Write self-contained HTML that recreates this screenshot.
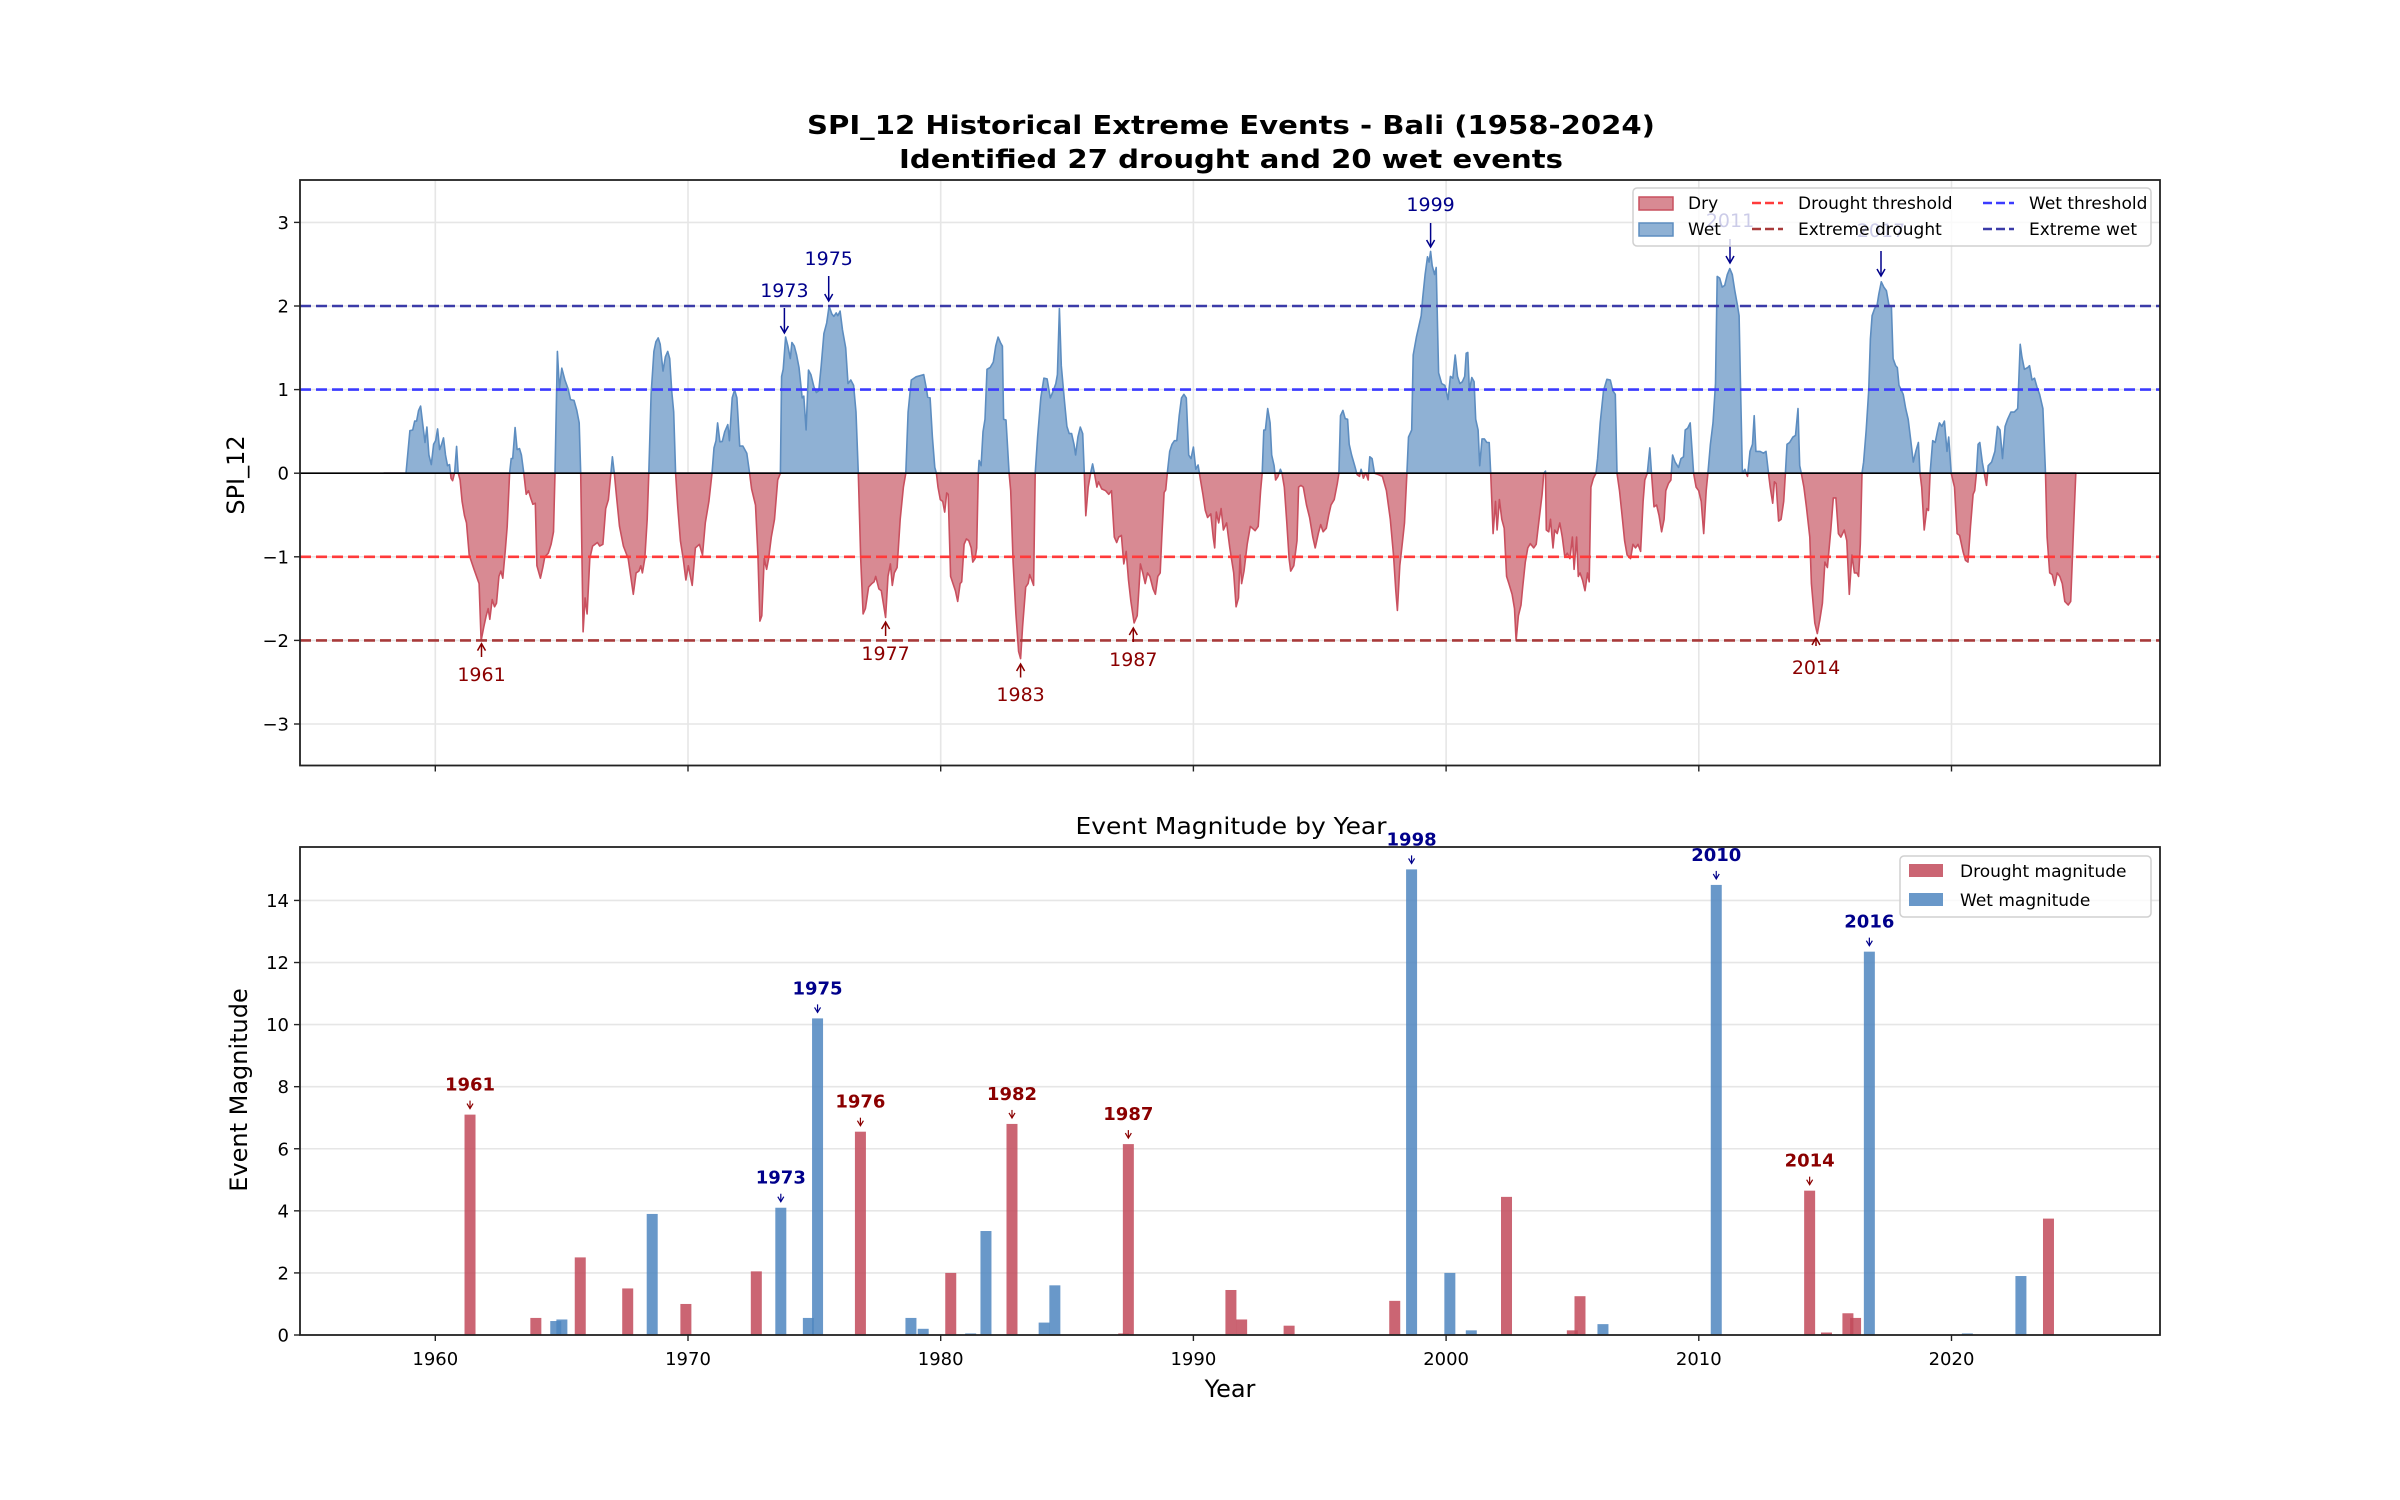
<!DOCTYPE html>
<html><head><meta charset="utf-8"><style>
html,body{margin:0;padding:0;background:#fff;}
svg{display:block;font-family:"DejaVu Sans","Liberation Sans",sans-serif;}
</style></head><body>
<svg id="s" width="2400" height="1500" viewBox="0 0 2400 1500" xmlns="http://www.w3.org/2000/svg">
<rect width="2400" height="1500" fill="#fff"/>
<text x="1231" y="134" font-size="26" font-weight="bold" text-anchor="middle" textLength="848" lengthAdjust="spacingAndGlyphs">SPI_12 Historical Extreme Events - Bali (1958-2024)</text>
<text x="1231" y="168" font-size="26" font-weight="bold" text-anchor="middle" textLength="664" lengthAdjust="spacingAndGlyphs">Identified 27 drought and 20 wet events</text>
<g id="top"></g>
<g id="bot"></g>
<text x="1231" y="834" font-size="23" text-anchor="middle" textLength="311" lengthAdjust="spacingAndGlyphs">Event Magnitude by Year</text>
<text x="1230" y="1397" font-size="24" text-anchor="middle">Year</text>
<text transform="translate(244,475) rotate(-90)" font-size="24" text-anchor="middle">SPI_12</text>
<text transform="translate(247,1090) rotate(-90)" font-size="24" text-anchor="middle">Event Magnitude</text>
</svg>
<script>
(function(){
var NS="http://www.w3.org/2000/svg";
function el(p,tag,a,txt){var e=document.createElementNS(NS,tag);for(var k in a)e.setAttribute(k,a[k]);if(txt!==undefined)e.textContent=txt;p.appendChild(e);return e;}
var top=document.getElementById('top'),bot=document.getElementById('bot');
var L=300,R=2160,T=180,B=765.5;
function X(y){return 435.3+(y-1960)*25.27;}
function Y(v){return 473.2-v*83.6;}
var y0=473.2;
for(var yr=1960;yr<=2020;yr+=10){el(top,'line',{x1:X(yr),x2:X(yr),y1:T,y2:B,stroke:'#e6e6e6','stroke-width':1.6});}
for(var v=-3;v<=3;v++){el(top,'line',{x1:L,x2:R,y1:Y(v),y2:Y(v),stroke:'#e6e6e6','stroke-width':1.6});}
var z5=[212,821,268,821,278,702,285,700,290,675,295,675,300,645,305,633,310,680,316,735,321,692,326,770,332,797,338,740,343,730,348,697,353,755,358,740,363,722,368,770,373,800,378,797,382,835,386,842,391,820,396,746,400,820,405,840,410,900,416,940,421,960,428,1050,440,1090,453,1130,458,1290,465,1250,471,1220,476,1200,480,1230,486,1175,492,1195,497,1185,503,1110,508,1095,513,1115,519,1040,524,970,530,821,534,780,538,780,544,693,549,755,555,752,560,770,566,821,572,880,578,870,584,892,589,908,595,905,599,1080,608,1115,614,1085,619,1055,628,1045,635,1020,641,985,645,821,651,480,656,585,662,527,670,560,678,585,684,615,693,617,700,645,706,680,710,821,716,1265,721,1170,726,1215,733,1060,740,1025,746,1020,752,1015,758,1025,766,1020,773,920,780,895,790,775,795,823,800,880,808,970,818,1025,830,1060,843,1160,850,1100,857,1095,862,1080,866,1100,872,1060,878,950,882,821,888,600,895,480,900,453,906,442,911,460,918,535,924,495,930,480,935,500,940,590,945,650,950,821,955,910,962,1010,969,1060,976,1120,982,1080,992,1135,1000,1030,1010,1020,1018,1050,1025,960,1034,900,1042,821,1047,750,1052,730,1056,680,1062,733,1068,732,1074,705,1082,685,1086,730,1093,610,1099,588,1105,610,1112,745,1120,745,1130,765,1137,821,1142,865,1152,910,1158,1050,1163,1235,1168,1220,1174,1060,1180,1090,1185,1060,1192,1000,1200,950,1208,840,1215,821,1218,550,1222,530,1228,440,1234,465,1240,500,1244,455,1250,465,1256,490,1262,525,1270,610,1274,605,1280,700,1286,532,1292,545,1300,580,1306,595,1312,590,1318,520,1325,430,1332,400,1338,353,1345,375,1350,382,1356,372,1360,380,1366,367,1372,420,1380,470,1386,570,1393,560,1400,575,1406,650,1412,821,1418,1060,1424,1215,1430,1200,1438,1140,1446,1130,1452,1125,1456,1110,1464,1145,1470,1150,1476,1190,1481,1225,1487,1110,1493,1075,1498,1135,1503,1100,1510,1085,1518,950,1526,860,1532,821,1538,650,1546,560,1558,551];
var z6=[60,545,66,580,70,608,76,610,82,720,88,805,92,821,96,860,102,895,108,900,113,930,118,876,122,880,128,1110,134,1130,140,1150,146,1180,152,1130,156,1125,162,1020,168,1005,174,1010,180,1030,184,1070,190,1060,194,1030,198,821,200,785,205,800,210,705,215,670,220,530,228,525,236,510,242,465,248,440,254,455,259,465,262,670,268,672,276,821,280,870,286,1070,293,1215,300,1320,305,1340,310,1250,318,1140,324,1130,328,1105,333,1120,338,1135,342,821,348,720,356,610,364,555,372,557,380,610,386,595,394,570,398,545,403,360,408,520,416,620,422,690,428,710,434,710,440,740,444,770,450,720,456,692,462,710,466,821,470,940,476,860,482,821,487,795,492,823,498,860,502,845,510,865,520,870,528,880,535,870,542,1000,548,1015,553,1000,560,995,566,1075,572,1040,578,1120,584,1180,592,1240,600,1220,604,1150,608,1075,614,1100,620,1130,626,1100,632,1110,640,1145,646,1160,652,1110,658,1100,662,1000,668,875,672,868,676,821,682,760,688,740,694,730,700,730,706,660,712,610,718,600,724,610,730,770,736,780,742,748,748,810,754,798,760,840,766,880,772,925,778,945,786,935,792,1000,796,1030,800,930,806,960,812,920,818,980,826,960,834,1030,844,1100,850,1195,856,1170,860,1050,864,1130,870,1095,878,1020,886,970,898,982,906,970,912,870,916,821,920,700,924,700,930,640,936,680,940,770,946,800,950,840,956,830,962,810,966,821,972,860,978,955,984,1060,988,1095,996,1080,1004,1010,1008,860,1014,855,1020,860,1028,910,1036,945,1044,1000,1050,1030,1058,990,1064,965,1070,985,1078,975,1084,940,1090,910,1098,895,1106,850,1110,821,1114,660,1120,645,1126,668,1132,670,1136,740,1142,770,1150,800,1156,825,1162,830,1166,810,1172,835,1178,820,1184,840,1188,775,1194,780,1200,821,1210,825,1220,830,1230,870,1240,950,1248,1050,1254,1150,1258,1205,1264,1080,1270,1020,1276,960,1282,821,1286,720,1294,700,1298,490,1306,440,1312,410,1318,380,1322,330,1328,265,1334,215,1338,230,1342,200,1346,240,1352,265,1356,245,1362,540,1370,570,1378,575,1386,615,1392,550,1398,555,1404,490,1410,550,1416,570,1422,565,1428,550,1432,485,1436,483,1440,590,1446,553,1452,565,1456,670,1462,700,1466,800,1472,725,1478,725,1484,735,1490,735,1494,821,1500,990,1506,900,1510,980,1516,895,1522,950,1528,975,1534,1110,1540,1130,1548,1160,1554,1200,1558,1290,1564,1220];
var z7=[50,1190,54,1140,60,1070,66,1030,72,1018,80,1030,86,1020,92,960,96,920,100,880,104,821,108,815,110,980,116,985,120,950,126,1030,130,980,136,990,142,960,148,1000,154,1055,160,1045,166,1060,172,1000,176,1090,182,1000,186,1110,190,1100,196,1120,202,1150,208,1100,212,1125,216,860,222,835,228,821,232,780,238,680,246,590,254,558,262,560,268,590,274,600,278,821,284,870,290,940,296,1010,302,1050,310,1060,316,1020,322,1030,328,1020,334,1040,340,900,344,840,350,821,356,750,360,821,366,915,372,910,378,940,384,985,390,950,394,870,400,850,406,840,410,770,416,790,424,805,430,780,436,775,440,700,446,695,452,680,456,750,460,821,466,860,472,870,478,900,484,990,490,870,494,821,500,740,506,680,512,570,516,270,522,275,528,300,534,295,540,265,546,248,552,265,558,310,564,350,568,380,572,600,576,821,582,810,588,830,594,760,600,740,604,660,608,760,618,760,626,765,632,760,638,821,642,860,648,905,652,845,656,850,662,955,668,950,674,900,678,821,682,740,688,735,696,720,702,715,708,640,712,800,716,821,722,860,728,915,736,1000,740,1130,748,1240,754,1270,760,1230,766,1185,772,1070,778,1085,786,980,792,890,798,890,804,990,810,1000,818,980,824,1010,830,1160,836,1050,842,1100,848,1100,852,1110,856,1020,860,821,864,790,870,700,876,590,880,445,884,380,890,360,896,350,900,320,906,285,912,300,918,310,924,350,930,355,934,500,940,520,944,525,948,575,952,585,958,600,964,640,970,670,976,730,982,790,988,760,994,735,998,821,1002,860,1008,980,1014,920,1018,925,1022,821,1028,730,1034,735,1040,700,1044,680,1050,690,1056,675,1062,760,1066,720,1072,821,1080,860,1086,990,1092,995,1100,1040,1106,1065,1112,1070,1118,970,1124,880,1128,870,1132,821,1136,740,1140,735,1146,790,1152,830,1156,855,1160,800,1168,790,1176,760,1182,690,1188,700,1194,780,1200,690,1206,670,1214,650,1222,650,1230,640,1236,460,1240,495,1246,530,1254,525,1258,520,1264,560,1270,555,1276,580,1282,600,1290,640,1296,821,1300,1000,1306,1100,1312,1105,1318,1135,1324,1100,1330,1110,1336,1130,1342,1180,1350,1190,1356,1180,1362,1000,1368,821];
var pts=[];
function add(a,ox,hs){for(var i=0;i<a.length;i+=2)pts.push([ox+a[i]/hs,180+a[i+1]/2.8]);}
add(z5,300,2.529);add(z6,900,2.529);add(z7,1500,2.376);
var P=[pts[0]];
for(var i=1;i<pts.length;i++){var a=pts[i-1],b=pts[i];
 if((a[1]-y0)*(b[1]-y0)<0){var t=(y0-a[1])/(b[1]-a[1]);P.push([a[0]+t*(b[0]-a[0]),y0]);}
 P.push(b);}
var x0=P[0][0],x1=P[P.length-1][0];
var pos='M'+x0+','+y0,neg='M'+x0+','+y0;
for(var i=0;i<P.length;i++){pos+=' L'+P[i][0].toFixed(1)+','+Math.min(P[i][1],y0).toFixed(1);neg+=' L'+P[i][0].toFixed(1)+','+Math.max(P[i][1],y0).toFixed(1);}
pos+=' L'+x1+','+y0+' Z';neg+=' L'+x1+','+y0+' Z';
el(top,'path',{d:neg,fill:'#d88a93',stroke:'#c9505f','stroke-width':1.6,'stroke-linejoin':'round'});
el(top,'path',{d:pos,fill:'#8fb1d4',stroke:'#5d8dc0','stroke-width':1.6,'stroke-linejoin':'round'});
el(top,'line',{x1:L,x2:R,y1:y0,y2:y0,stroke:'#000','stroke-width':1.6});
var th=[[-1,'#ff3b3b'],[-2,'#a83a3a'],[1,'#3b3bff'],[2,'#3b3ba8']];
th.forEach(function(t){el(top,'line',{x1:L,x2:R,y1:Y(t[0]),y2:Y(t[0]),stroke:t[1],'stroke-width':2.6,'stroke-dasharray':'11,5'});});
function arrow(g,x,ya,yb,c){
 el(g,'line',{x1:x,x2:x,y1:ya,y2:yb,stroke:c,'stroke-width':1.5});
 var d=yb>ya?-1:1;
 el(g,'path',{d:'M'+(x-4)+','+(yb+d*7)+' L'+x+','+yb+' L'+(x+4)+','+(yb+d*7),fill:'none',stroke:c,'stroke-width':1.5});
}
var red='#8b0000',blue='#00008b';
[[481.5,681,643.6,657,'1961'],[885.6,660,622,636,'1977'],[1020.6,701,664,677.5,'1983'],[1133.3,666,628,642,'1987'],[1816,674,638,646,'2014']].forEach(function(a){
 el(top,'text',{x:a[0],y:a[1],'font-size':19,'text-anchor':'middle',fill:red},a[4]);arrow(top,a[0],a[3],a[2],red);});
[[784.4,297,308,333,'1973'],[828.7,265,276,301,'1975'],[1430.6,211,223,247,'1999'],[1730,227,239,263,'2011'],[1881,237,251,276,'2017']].forEach(function(a){
 el(top,'text',{x:a[0],y:a[1],'font-size':19,'text-anchor':'middle',fill:blue},a[4]);arrow(top,a[0],a[2],a[3],blue);});
el(top,'rect',{x:1633,y:188,width:518,height:58,rx:4,fill:'#fff','fill-opacity':0.8,stroke:'#d0d0d0','stroke-width':1.5});
el(top,'rect',{x:1639,y:197,width:34,height:13,fill:'#d88a93',stroke:'#c9505f','stroke-width':1.5});
el(top,'rect',{x:1639,y:223,width:34,height:13,fill:'#8fb1d4',stroke:'#5d8dc0','stroke-width':1.5});
var lg=[[1688,209,'Dry'],[1688,235,'Wet'],[1798,209,'Drought threshold'],[1798,235,'Extreme drought'],[2029,209,'Wet threshold'],[2029,235,'Extreme wet']];
lg.forEach(function(a){el(top,'text',{x:a[0],y:a[1],'font-size':17},a[2]);});
[[1752,203,'#ff3b3b'],[1752,229,'#a83a3a'],[1983,203,'#3b3bff'],[1983,229,'#3b3ba8']].forEach(function(a){el(top,'line',{x1:a[0],x2:a[0]+31,y1:a[1],y2:a[1],stroke:a[2],'stroke-width':2.4,'stroke-dasharray':'9,4'});});
el(top,'rect',{x:L,y:T,width:R-L,height:B-T,fill:'none',stroke:'#222','stroke-width':1.8});
for(var v=-3;v<=3;v++){el(top,'line',{x1:L-6,x2:L,y1:Y(v),y2:Y(v),stroke:'#222','stroke-width':1.4});
 el(top,'text',{x:L-11,y:Y(v)+6.5,'font-size':18,'text-anchor':'end'},(v<0?'\u2212':'')+Math.abs(v));}
for(var yr=1960;yr<=2020;yr+=10)el(top,'line',{x1:X(yr),x2:X(yr),y1:B,y2:B+6,stroke:'#222','stroke-width':1.4});
var BT=847,BB=1335;function Yb(v){return BB-v*31.04;}
for(var v=2;v<=14;v+=2)el(bot,'line',{x1:L,x2:R,y1:Yb(v),y2:Yb(v),stroke:'#e6e6e6','stroke-width':1.6});
var dr=[[307,7.1],[350,0.55],[379,2.5],[410,1.5],[448,1.0],[494,2.05],[562,6.55],[621,2.0],[661,6.8],[737,6.15],[734,0.05],[804,1.45],[811,0.5],[842,0.3],[911,1.1],[984,4.45],[1027,0.15],[1032,1.25],[1182,4.65],[1193,0.08],[1207,0.7],[1212,0.55],[1338,3.75]];
var wt=[[363,0.45],[367,0.5],[426,3.9],[510,4.1],[528,0.55],[534,10.2],[595,0.55],[603,0.2],[634,0.05],[644,3.35],[682,0.4],[689,1.6],[922,15.0],[947,2.0],[961,0.15],[1047,0.35],[1121,14.5],[1221,12.35],[1285,0.05],[1320,1.9]];
function bars(a,c){a.forEach(function(b){var x=b[0]*1.531;el(bot,'rect',{x:x-5.5,y:Yb(b[1]),width:11,height:b[1]*31.04,fill:c,'fill-opacity':0.85});});}
bars(dr,'#c24a5b');bars(wt,'#4f86c0');
function ann(dx,val,lab,c){var x=dx*1.531,tp=Yb(val);
 el(bot,'text',{x:x,y:tp-24,'font-size':18,'font-weight':'bold','text-anchor':'middle',fill:c},lab);
 el(bot,'line',{x1:x,x2:x,y1:tp-14,y2:tp-6,stroke:c,'stroke-width':1.2});
 el(bot,'path',{d:'M'+(x-3)+','+(tp-11)+' L'+x+','+(tp-6)+' L'+(x+3)+','+(tp-11),fill:'none',stroke:c,'stroke-width':1.2});}
ann(307,7.1,'1961',red);ann(562,6.55,'1976',red);ann(661,6.8,'1982',red);ann(737,6.15,'1987',red);ann(1182,4.65,'2014',red);
ann(510,4.1,'1973',blue);ann(534,10.2,'1975',blue);ann(922,15.0,'1998',blue);ann(1121,14.5,'2010',blue);ann(1221,12.35,'2016',blue);
el(bot,'rect',{x:L,y:BT,width:R-L,height:BB-BT,fill:'none',stroke:'#222','stroke-width':1.8});
for(var v=0;v<=14;v+=2){el(bot,'line',{x1:L-6,x2:L,y1:Yb(v),y2:Yb(v),stroke:'#222','stroke-width':1.4});
 el(bot,'text',{x:L-11,y:Yb(v)+6.5,'font-size':18,'text-anchor':'end'},String(v));}
for(var yr=1960;yr<=2020;yr+=10){el(bot,'line',{x1:X(yr),x2:X(yr),y1:BB,y2:BB+6,stroke:'#222','stroke-width':1.4});
 el(bot,'text',{x:X(yr),y:1365,'font-size':18,'text-anchor':'middle'},String(yr));}
el(bot,'rect',{x:1900,y:856,width:251,height:61,rx:4,fill:'#fff','fill-opacity':0.8,stroke:'#d0d0d0','stroke-width':1.5});
el(bot,'rect',{x:1909,y:864,width:34,height:13,fill:'#c24a5b','fill-opacity':0.85});
el(bot,'rect',{x:1909,y:893,width:34,height:13,fill:'#4f86c0','fill-opacity':0.85});
el(bot,'text',{x:1960,y:877,'font-size':17},'Drought magnitude');
el(bot,'text',{x:1960,y:906,'font-size':17},'Wet magnitude');
})();
</script>
</body></html>
